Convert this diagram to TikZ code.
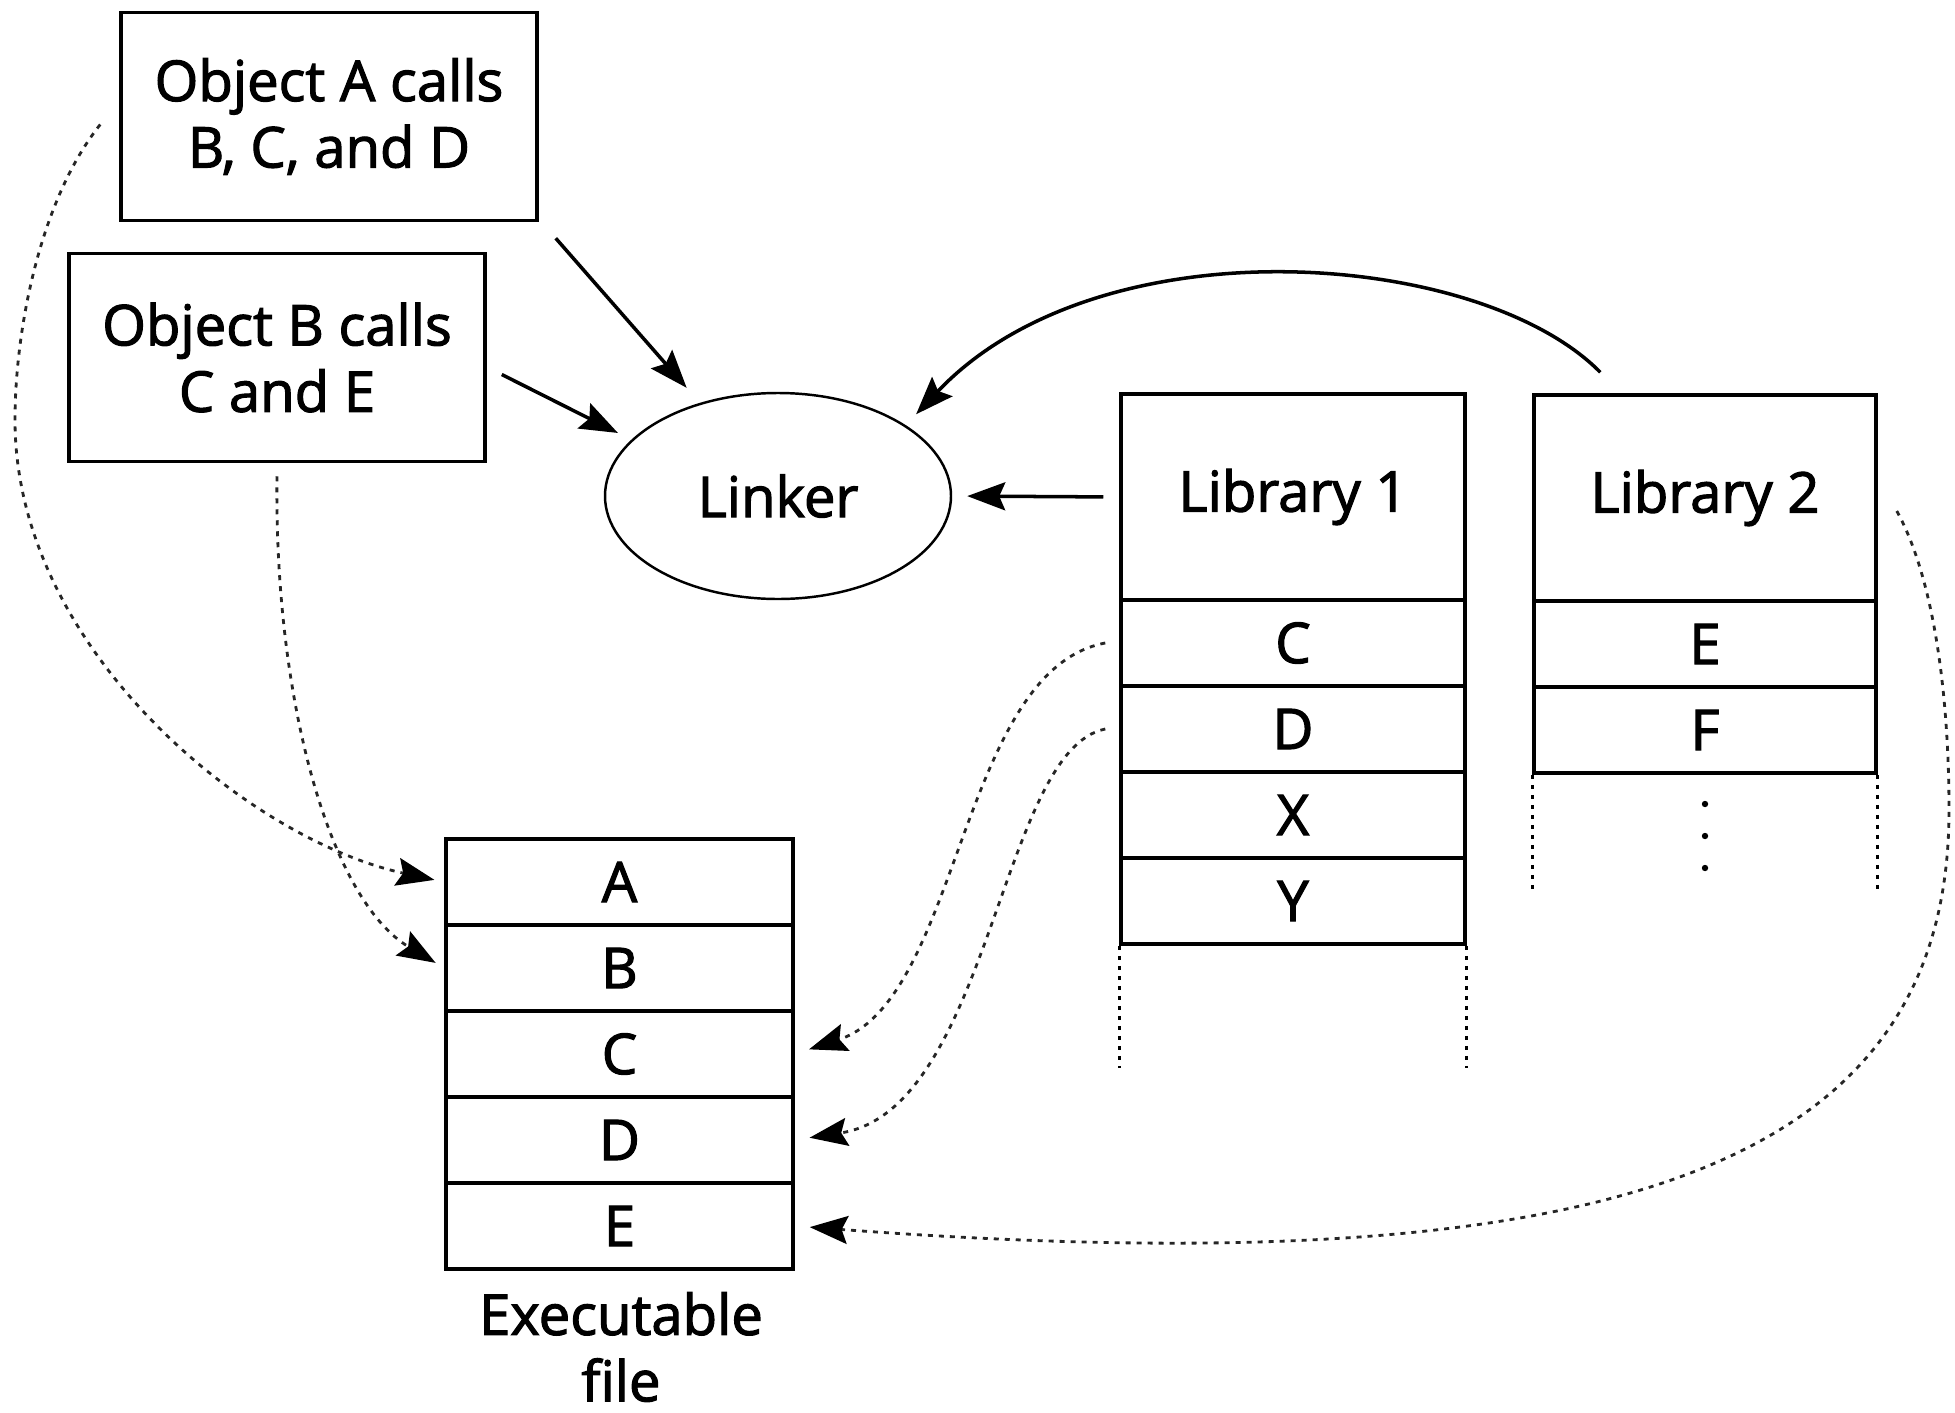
\documentclass[tikz,border=0pt]{standalone}
\usepackage{fontspec}
\setmainfont{Open Sans}[FakeBold=2]
\usetikzlibrary{arrows.meta,shapes.geometric}

\tikzset{
  box/.style={draw, line width=1pt, align=center, inner sep=0pt, minimum width=41.6mm, minimum height=20.8mm},
  cell/.style={draw, line width=1pt, inner sep=0pt, minimum width=34.4mm, minimum height=8.6mm},
  header/.style={cell, minimum height=20.6mm},
  link/.style={-{Stealth[length=3.8mm,width=2.8mm,inset=0.6mm]}, line width=1pt},
  copy/.style={-{Stealth[length=3.8mm,width=2.8mm,inset=0.6mm,black]}, line width=0.8pt, black!85, dash pattern=on 0.5mm off 0.6mm},
  gap/.style={line width=0.8pt, dash pattern=on 0.4mm off 0.6mm},
}

\begin{document}
\begin{tikzpicture}[x=0.1mm,y=-0.1mm,font=\fontsize{16}{18.9}\selectfont]
	\useasboundingbox (0,0) rectangle (1955,1413);
	% object files
	\node[box] (objA) at (329,116.5) {Object A calls\\B, C, and D};
	\node[box] (objB) at (277,357.5) {Object B calls\\C and E};
	% linker
	\node[draw, ellipse, line width=0.7pt, inner sep=0pt, minimum width=34.6mm, minimum height=20.6mm] (linker) at (778,496) {Linker};
	% libraries
	\node[header] (lib1) at (1293,497) {Library 1};
	\foreach \r [count=\i from 0] in {C,D,X,Y}
		\node[cell] (lib1\r) at (1293,{643+86*\i}) {\r};
	\draw[gap] (lib1Y.south west) -- ++(0,122);
	\draw[gap] (lib1Y.south east) -- ++(0,122);
	\node[header, minimum width=34.2mm] (lib2) at (1705,498) {Library 2};
	\foreach \r [count=\i from 0] in {E,F}
		\node[cell, minimum width=34.2mm] (lib2\r) at (1705,{644+86*\i}) {\r};
	\draw[gap] (lib2F.south west) -- ++(0,118);
	\draw[gap] (lib2F.south east) -- ++(0,118);
	\foreach \y in {804,836,868}
		\fill (1705,\y) circle (0.32mm);
	% executable
	\foreach \r [count=\i from 0] in {A,B,C,D,E}
		\node[cell, minimum width=34.7mm] (exe\r) at (619.5,{882+86*\i}) {\r};
	\node[align=center] (exelabel) at (621,1347) {Executable\\file};
	% into the linker
	\draw[link, shorten >=2mm] ([xshift=1.7mm,yshift=-1.6mm]objA.south east) -- (linker.130);
	\draw[link, shorten >=1.5mm] ([xshift=1.5mm,yshift=-1.7mm]objB.east) -- (linker.159);
	\draw[link, shorten <=1.6mm, shorten >=1.5mm] (lib1.west) -- (linker.east);
	\draw[link, shorten >=1.5mm] ([xshift=6.8mm,yshift=2.1mm]lib2.north west) .. controls (1480,250) and (1100,220) .. (linker.29);
	% copied into the executable
	\draw[copy, shorten >=1mm] ([xshift=-1.9mm,yshift=-0.8mm]objA.west) .. controls (40,200) and (15,330) .. (15,420) .. controls (15,650) and (250,840) .. (exeA.west);
	\draw[copy, shorten >=1mm] ([yshift=-1.3mm]objB.south) .. controls (274,700) and (330,900) .. (exeB.west);
	\draw[copy, shorten >=1.5mm] ([xshift=-1.4mm]lib1C.west) .. controls (960,670) and (960,1000) .. (exeC.east);
	\draw[copy, shorten >=1.5mm] ([xshift=-1.4mm]lib1D.west) .. controls (1000,750) and (990,1110) .. (exeD.east);
	\draw[copy, shorten >=1.5mm] ([xshift=1.9mm,yshift=-1.3mm]lib2.east) .. controls (1935,580) and (1949,700) .. (1949,810) .. controls (1949,1150) and (1650,1290) .. (exeE.east);
\end{tikzpicture}
\end{document}
